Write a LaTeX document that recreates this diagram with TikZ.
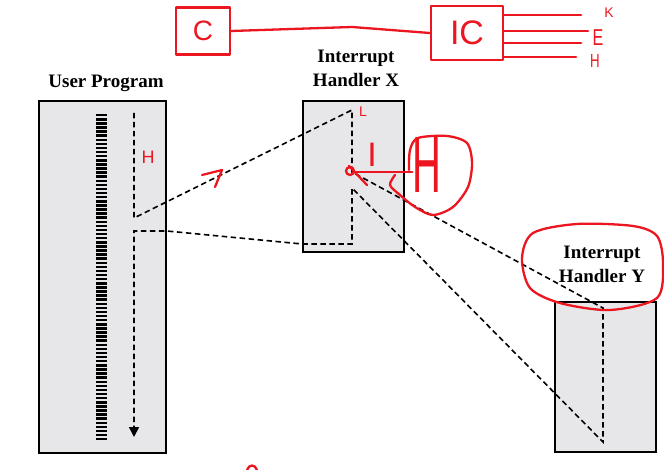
\documentclass[tikz,border=0pt]{standalone}
\usepackage{fontspec}
\setmainfont{Liberation Serif}
\newfontfamily\handfont{Liberation Sans}
\usetikzlibrary{arrows.meta}
\definecolor{boxgray}{RGB}{231,231,234}
\definecolor{inkred}{RGB}{236,22,32}
\newcommand{\handsize}[1]{\handfont\fontsize{#1}{#1}\selectfont}

\begin{document}
\begin{tikzpicture}[x=1pt, y=-1pt,
    panel/.style = {draw, line width=1.6pt, fill=boxgray, inner sep=0pt},
    flow/.style = {line width=1.6pt, dash pattern=on 5.5pt off 3.5pt},
    title/.style = {font=\fontsize{19}{24}\selectfont\bfseries, align=center},
    ink/.style = {draw=inkred, line width=2.3pt, line cap=round, line join=round},
    inkbox/.style = {ink, text=inkred, inner sep=0pt},
    scrawl/.style = {text=inkred, inner sep=0pt}
]
\useasboundingbox (0,0) rectangle (664,470);

% program and handlers
\node[panel, minimum width=127, minimum height=352] (user) at (102.5,277) {};
\node[panel, minimum width=101, minimum height=151] (hx) at (353.5,176.5) {};
\node[panel, minimum width=101, minimum height=150] (hy) at (605.5,377) {};

\node[title] (userlabel) at (106,83) {User Program};
\node[title] (hxlabel) at (356,68) {Interrupt\\Handler X};
\node[title] (hylabel) at (602,264) {Interrupt\\Handler Y};

% instructions
\draw[line width=11pt, dash pattern=on 2.5pt off 1.6pt] (101,114) -- (101,440);

% flow of control
\coordinate (u1) at (134,113);
\coordinate (u2) at (134,218);
\coordinate (u3) at (134,231);
\coordinate (u4) at (134,437);
\coordinate (x1) at (352,110);
\coordinate (x2) at (352,172);
\coordinate (x3) at (352,188);
\coordinate (x4) at (352,244);
\coordinate (y1) at (603,308);
\coordinate (y2) at (603,442);
\draw[flow, -{Triangle[width=10pt, length=10pt]}] (u1) -- (u2) -- (x1) -- (x2) -- (y1) -- (y2)
    -- (x3) -- (x4) -- (x4 -| hx.west) -- (u3 -| user.east) -- (u3) -- (u4);

% notes in red
\node[inkbox, minimum width=54, minimum height=47] (cbox) at (203,31) {\handsize{28}C};
\node[inkbox, minimum width=72, minimum height=54] (icbox) at (467,33) {\handsize{34}IC};
\draw[ink] (cbox.east) -- (352,27) -- (icbox.west);
\foreach \yy/\len in {15/77, 31/84, 43/77, 57/72}
    \draw[ink] (icbox.east |- 0,\yy) -- ++(\len,0);
\node[scrawl] (keyk) at (609,13) {\handsize{14}K};
\node[scrawl] (keye) at (598,38) {\scalebox{0.7}[1]{\handsize{23}E}};
\node[scrawl] (keyh) at (595,61) {\scalebox{0.7}[1]{\handsize{19}H}};

\node[scrawl] (markh) at (148,157) {\handsize{18}H};
\draw[ink] (202,175) -- (222,170) -- (215,187);

\node[scrawl] (markl) at (363,112) {\handsize{14}L};
\node[scrawl] (marki) at (372,155) {\handsize{34}I};
\node[scrawl] (bigh) at (427,165) {\scalebox{0.5}[1]{\handsize{80}H}};
\draw[ink] (350,171) circle (4);
\draw[ink] (349,166) -- (367,185);
\draw[ink] (354,172) -- (x2 -| bigh.west);
\draw[ink] plot[smooth] coordinates {(409,170) (410,150) (418,138) (447,136) (467,143)
    (472,163) (468,187) (453,207) (433,215) (415,207) (400,195) (390,185) (395,175)};

\draw[ink] plot[smooth cycle] coordinates {(522,258) (533,233) (577,224) (633,226)
    (657,236) (663,263) (657,298) (610,310) (560,303) (530,288)};
\draw[ink] (247,470) .. controls (249,464) and (255,464) .. (257,470);
\end{tikzpicture}
\end{document}
